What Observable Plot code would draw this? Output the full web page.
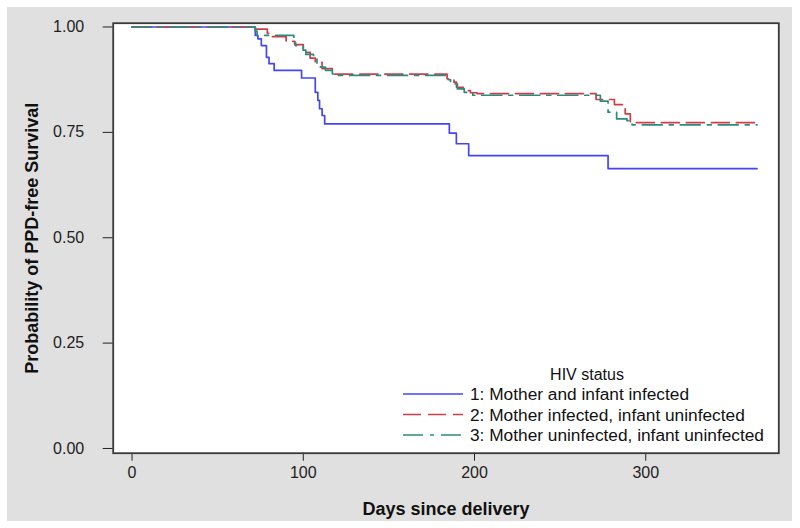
<!DOCTYPE html>
<html>
<head>
<meta charset="utf-8">
<script src="https://cdn.jsdelivr.net/npm/d3@7"></script>
<script src="https://cdn.jsdelivr.net/npm/@observablehq/plot@0.6"></script>
<style>
  html, body { margin: 0; padding: 0; background: #ffffff; }
  #wrap { position: relative; width: 800px; height: 528px; background: #ffffff; overflow: hidden; font-family: "Liberation Sans", Arial, sans-serif; }
  #bg { position: absolute; left: 7px; top: 7px; width: 785px; height: 514px; background: #e0e0e0; }
  #chart { position: absolute; left: 0; top: 0; }
  #legend { position: absolute; left: 400px; top: 362px; }
</style>
</head>
<body>
<div id="wrap">
  <div id="bg"></div>
  <div id="chart"></div>
  <div id="legend"></div>
</div>
<script>
// ---- data ----
const groups = [
  "1: Mother and infant infected",
  "2: Mother infected, infant uninfected",
  "3: Mother uninfected, infant uninfected"
];
const seriesColors = ["#4545f5", "#d23c46", "#2a8c7e"];
const seriesDash = ["none", "18,7", "20,7,4,7"];

const g1Days = [0, 72, 73.5, 75.5, 78.5, 80, 83, 99, 107, 108.5, 109.5, 111, 112.5, 185.3, 189.4, 196.6, 278, 365];
const g1Surv = [1, 0.98, 0.972, 0.956, 0.928, 0.913, 0.897, 0.879, 0.845, 0.826, 0.806, 0.790, 0.770, 0.748, 0.723, 0.695, 0.664, 0.664];

const g2Days = [0, 72, 79, 82, 90, 95, 100, 101.5, 104, 107, 111, 117, 184, 188, 189.5, 193.5, 197.6, 201.5, 271, 281.7, 288, 291, 365];
const g2Surv = [1, 0.995, 0.985, 0.977, 0.966, 0.958, 0.948, 0.940, 0.926, 0.916, 0.901, 0.888, 0.877, 0.869, 0.857, 0.849, 0.844, 0.842, 0.828, 0.816, 0.794, 0.773, 0.773];

const g3Days = [0, 72, 73, 94.5, 95.5, 100, 101.5, 106, 108, 110, 113, 117, 120, 183.5, 186, 190, 194, 199, 273.5, 278, 283, 289, 292, 365];
const g3Surv = [1, 0.99, 0.98, 0.966, 0.956, 0.945, 0.935, 0.925, 0.912, 0.905, 0.897, 0.889, 0.885, 0.875, 0.865, 0.853, 0.845, 0.838, 0.824, 0.798, 0.782, 0.778, 0.768, 0.768];

const xTicks = [0, 100, 200, 300];
const yTicks = [0, 0.25, 0.5, 0.75, 1];
const xTitle = "Days since delivery";
const yTitle = "Probability of PPD-free Survival";
const legendTitle = "HIV status";

// ---- build table ----
const allDays = [g1Days, g2Days, g3Days];
const allSurv = [g1Surv, g2Surv, g3Surv];
const rows = [];
groups.forEach((g, i) => {
  allDays[i].forEach((d, j) => rows.push({group: g, idx: i, day: d, surv: allSurv[i][j]}));
});

const chart = Plot.plot({
  width: 800,
  height: 528,
  marginLeft: 112.7,
  marginRight: 21.7,
  marginTop: 22.7,
  marginBottom: 75.3,
  style: {background: "transparent", fontFamily: "'Liberation Sans', Arial, sans-serif", fontSize: "16px", color: "#222"},
  x: {domain: [-11, 377.7]},
  y: {domain: [-0.0112, 1.009]},
  marks: [
    Plot.frame({fill: "white", stroke: "none"}),
    Plot.axisX({ticks: xTicks, tickFormat: d => String(d), tickSize: 8, tickPadding: 5, fontSize: 16,
      label: xTitle, labelAnchor: "center", labelOffset: 62, labelArrow: "none"}),
    Plot.axisY({ticks: yTicks, tickFormat: d3.format(".2f"), tickSize: 10, tickPadding: 19, fontSize: 16,
      label: yTitle, labelAnchor: "center", labelOffset: 88, labelArrow: "none"}),
    ...groups.map((g, i) => Plot.line(rows.filter(r => r.idx === i), {
      x: "day", y: "surv", curve: "step-after",
      stroke: seriesColors[i], strokeWidth: 1.7,
      strokeDasharray: seriesDash[i] === "none" ? null : seriesDash[i]
    })),
    Plot.frame({stroke: "#3a3a3a", strokeWidth: 1.8})
  ]
});
document.getElementById("chart").appendChild(chart);

// bold axis titles
d3.select(chart).selectAll('g[aria-label="x-axis label"] text, g[aria-label="y-axis label"] text')
  .style("font-weight", "bold").style("font-size", "18px").attr("fill", "#111");

// ---- legend ----
const lw = 390, lh = 95;
const leg = d3.select("#legend").append("svg").attr("width", lw).attr("height", lh)
  .style("font-family", "'Liberation Sans', Arial, sans-serif");
leg.append("text").attr("x", 187).attr("y", 12).attr("text-anchor", "middle")
  .attr("dominant-baseline", "central").style("font-size", "16px").attr("fill", "#111").text(legendTitle);
groups.forEach((g, i) => {
  const y = 32 + i * 20.5;
  leg.append("line").attr("x1", 3).attr("x2", 63).attr("y1", y).attr("y2", y)
    .attr("stroke", seriesColors[i]).attr("stroke-width", 1.7)
    .attr("stroke-dasharray", seriesDash[i] === "none" ? null : seriesDash[i]);
  leg.append("text").attr("x", 70).attr("y", y).attr("dominant-baseline", "central")
    .style("font-size", "17.3px").attr("fill", "#111").text(g);
});
</script>
</body>
</html>
